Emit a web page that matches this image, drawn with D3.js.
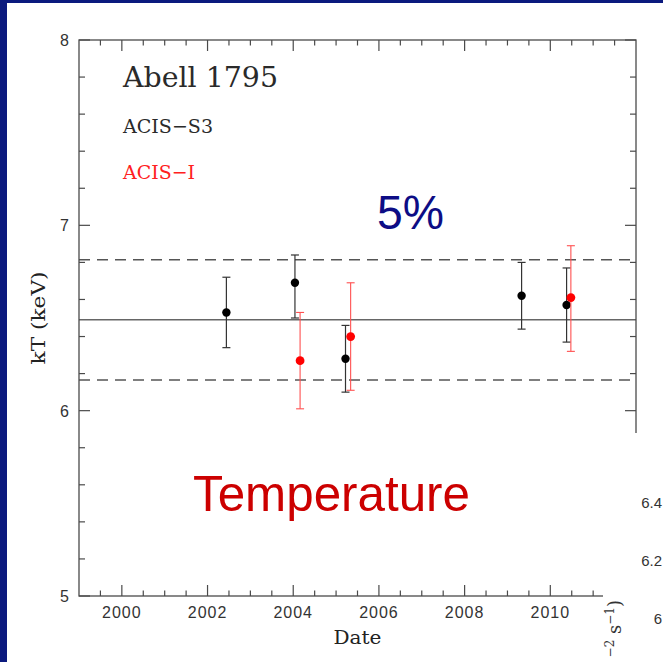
<!DOCTYPE html>
<html>
<head>
<meta charset="utf-8">
<script src="https://cdn.jsdelivr.net/npm/d3@7"></script>
<style>
html,body{margin:0;padding:0;background:#fff;}
svg{display:block;}
</style>
</head>
<body>
<script>
// ---- data ----
const xDomain = [1999, 2012];
const yDomain = [5, 8];
const xTickLabels = [2000, 2002, 2004, 2006, 2008, 2010];
const yTickLabels = [5, 6, 7, 8];
const s3Date = [2002.44, 2004.04, 2005.22, 2009.33, 2010.38];
const s3kT   = [6.53, 6.69, 6.28, 6.62, 6.57];
const s3Lo   = [6.34, 6.50, 6.10, 6.44, 6.37];
const s3Hi   = [6.72, 6.84, 6.46, 6.80, 6.77];
const iDate  = [2004.16, 2005.34, 2010.48];
const ikT    = [6.27, 6.40, 6.61];
const iLo    = [6.01, 6.11, 6.32];
const iHi    = [6.53, 6.69, 6.89];
const meanKT = 6.49;
const bandFrac = 0.05;
const overlayTicks = ["6.4", "6.2", "6"];
const overlayTickVals = [6.4, 6.2, 6.0];

const W = 663, H = 662;
const L = 79, R = 636, T = 40, B = 596;
const svg = d3.select("body").append("svg").attr("width", W).attr("height", H);

const x = d3.scaleLinear().domain(xDomain).range([L, R]);
const y = d3.scaleLinear().domain(yDomain).range([B, T]);

const axisColor = "#4a4a4a";
const tickFont = "'Liberation Sans', Arial, sans-serif";
const serif = "'DejaVu Serif', serif";

const xMajor = d3.range(2000, 2011.01, 2);
const xMinor = d3.range(1999.5, 2012.001, 0.5).filter(v => Math.abs(v % 2) > 1e-6 && v < 2012);
const yMajor = d3.range(5, 8.01, 1);
const yMinor = d3.range(5.2, 8, 0.2).filter(v => Math.abs(v - Math.round(v)) > 1e-6);

const g = svg.append("g");

// reference lines
g.append("line").attr("x1", L).attr("x2", R).attr("y1", y(meanKT)).attr("y2", y(meanKT))
  .attr("stroke", "#666").attr("stroke-width", 1.5);
[meanKT * (1 + bandFrac), meanKT * (1 - bandFrac)].forEach(v => {
  g.append("line").attr("x1", L).attr("x2", R).attr("y1", y(v)).attr("y2", y(v))
    .attr("stroke", "#555").attr("stroke-width", 1.5).attr("stroke-dasharray", "11,7");
});

function drawSeries(dates, vals, lo, hi, barColor, dotColor, r, bw) {
  const data = dates.map((d, i) => ({d, v: vals[i], lo: lo[i], hi: hi[i]}));
  const s = g.append("g");
  s.selectAll(".v").data(data).join("line")
    .attr("x1", p => x(p.d)).attr("x2", p => x(p.d))
    .attr("y1", p => y(p.lo)).attr("y2", p => y(p.hi))
    .attr("stroke", barColor).attr("stroke-width", bw);
  ["lo", "hi"].forEach(k => {
    s.selectAll(".c" + k).data(data).join("line")
      .attr("x1", p => x(p.d) - 4).attr("x2", p => x(p.d) + 4)
      .attr("y1", p => y(p[k])).attr("y2", p => y(p[k]))
      .attr("stroke", barColor).attr("stroke-width", bw);
  });
  s.selectAll("circle").data(data).join("circle")
    .attr("cx", p => x(p.d)).attr("cy", p => y(p.v)).attr("r", r)
    .attr("fill", dotColor);
}
drawSeries(s3Date, s3kT, s3Lo, s3Hi, "#333", "#000", 4.2, 1.2);
drawSeries(iDate, ikT, iLo, iHi, "#ff5050", "#ff0000", 4.4, 1.1);

// frame
svg.append("rect").attr("x", L).attr("y", T).attr("width", R - L).attr("height", B - T)
  .attr("fill", "none").attr("stroke", axisColor).attr("stroke-width", 1.3);

function ticks(vals, len, side) {
  vals.forEach(v => {
    let l = svg.append("line").attr("stroke", axisColor).attr("stroke-width", 1.2);
    if (side === "b") l.attr("x1", x(v)).attr("x2", x(v)).attr("y1", B).attr("y2", B - len);
    if (side === "t") l.attr("x1", x(v)).attr("x2", x(v)).attr("y1", T).attr("y2", T + len);
    if (side === "l") l.attr("x1", L).attr("x2", L + len).attr("y1", y(v)).attr("y2", y(v));
    if (side === "r") l.attr("x1", R).attr("x2", R - len).attr("y1", y(v)).attr("y2", y(v));
  });
}
ticks(xMajor, 11, "b"); ticks(xMinor, 5.5, "b");
ticks(xMajor, 11, "t"); ticks(xMinor, 5.5, "t");
ticks(yMajor, 11, "l"); ticks(yMinor, 6, "l");
ticks(yMajor, 11, "r"); ticks(yMinor, 6, "r");

svg.selectAll(".xl").data(xTickLabels).join("text")
  .attr("x", d => x(d)).attr("y", 618).attr("text-anchor", "middle")
  .attr("font-family", tickFont).attr("font-size", 16).attr("letter-spacing", 1)
  .attr("fill", "#333").text(d => d);
svg.selectAll(".yl").data(yTickLabels).join("text")
  .attr("x", 69).attr("y", d => y(d) + 6).attr("text-anchor", "end")
  .attr("font-family", tickFont).attr("font-size", 16)
  .attr("fill", "#333").text(d => d);

svg.append("text").attr("x", 357.5).attr("y", 644).attr("text-anchor", "middle")
  .attr("font-family", serif).attr("font-size", 19).attr("fill", "#222")
  .attr("textLength", 48).attr("lengthAdjust", "spacingAndGlyphs").text("Date");
svg.append("text").attr("transform", "translate(45,318) rotate(-90)").attr("text-anchor", "middle")
  .attr("font-family", serif).attr("font-size", 19).attr("fill", "#222")
  .attr("textLength", 93).attr("lengthAdjust", "spacingAndGlyphs").text("kT (keV)");

svg.append("text").attr("x", 123).attr("y", 86.5).attr("font-family", serif).attr("font-size", 28)
  .attr("fill", "#2a2a2a").attr("textLength", 155).attr("lengthAdjust", "spacingAndGlyphs").text("Abell 1795");
svg.append("text").attr("x", 123).attr("y", 133).attr("font-family", serif).attr("font-size", 19.4)
  .attr("fill", "#2a2a2a").attr("textLength", 90).attr("lengthAdjust", "spacingAndGlyphs").text("ACIS\u2212S3");
svg.append("text").attr("x", 123).attr("y", 179.3).attr("font-family", serif).attr("font-size", 19.4)
  .attr("fill", "#ff2020").attr("textLength", 72).attr("lengthAdjust", "spacingAndGlyphs").text("ACIS\u2212I");

svg.append("text").attr("x", 377).attr("y", 229).attr("font-family", tickFont).attr("font-size", 48)
  .attr("fill", "#0d0d85").attr("textLength", 67).attr("lengthAdjust", "spacingAndGlyphs").text("5%");
svg.append("text").attr("x", 193).attr("y", 510.5).attr("font-family", tickFont).attr("font-size", 50)
  .attr("fill", "#cc0000").attr("textLength", 277).attr("lengthAdjust", "spacingAndGlyphs").text("Temperature");

// overlapping second panel (partial)
svg.append("rect").attr("x", 603).attr("y", 433).attr("width", W - 603).attr("height", H - 433).attr("fill", "#fff");
const yo = d3.scaleLinear().domain([6.0, 6.4]).range([618, 502]);
svg.selectAll(".ol").data(overlayTickVals).join("text")
  .attr("x", 662).attr("y", d => yo(d) + 5.5).attr("text-anchor", "end")
  .attr("font-family", tickFont).attr("font-size", 15).attr("fill", "#333")
  .text((d, i) => overlayTicks[i]);
const ot = svg.append("text").attr("transform", "translate(621,600) rotate(-90)").attr("text-anchor", "end")
  .attr("font-family", serif).attr("font-size", 18).attr("fill", "#333");
ot.append("tspan").attr("dy", -7).attr("font-size", 12).text("\u22122");
ot.append("tspan").attr("dy", 7).text(" s");
ot.append("tspan").attr("dy", -7).attr("font-size", 12).text("\u22121");
ot.append("tspan").attr("dy", 7).text(")");

// blue slide border
svg.append("rect").attr("x", 0).attr("y", 0).attr("width", 7).attr("height", H).attr("fill", "#0b1a7e");
svg.append("rect").attr("x", 0).attr("y", 0).attr("width", W).attr("height", 3).attr("fill", "#0b1a7e");
</script>
</body>
</html>
